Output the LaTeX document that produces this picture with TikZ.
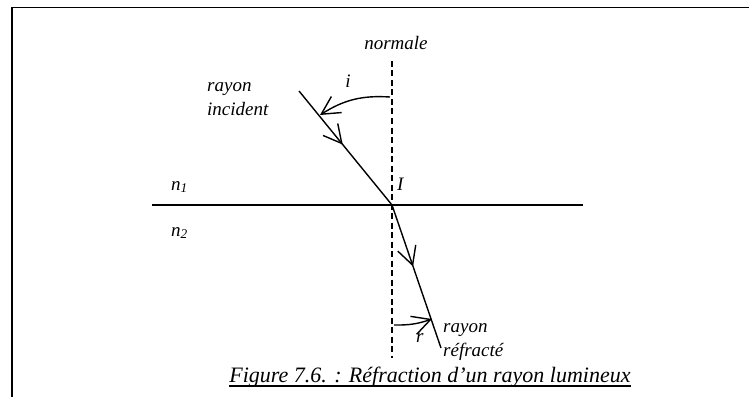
\documentclass[tikz,border=0pt]{standalone}
\usepackage{fontspec}
\setmainfont{Liberation Serif}
\usetikzlibrary{arrows.meta,decorations.markings}

\begin{document}
\begin{tikzpicture}[x=1pt,y=1pt,
    lbl/.style={font=\fontsize{19}{23.5}\selectfont\itshape, inner sep=0pt},
    ray/.style={line width=1.4pt},
    barbtip/.tip={Straight Barb[length=18pt,width=19pt,line width=1.4pt]},
    midarrow/.style={postaction={decorate,decoration={markings,mark=at position #1 with {\arrow{barbtip}}}}}
  ]
  \useasboundingbox (0,0) rectangle (749,397);

  \coordinate (fTL) at (12,389.5);
  \coordinate (fTR) at (749,389.5);
  \coordinate (fBL) at (12,0);
  \coordinate (I) at (392,192);
  \coordinate (src) at (299,306);
  \coordinate (dst) at (441,49);
  \coordinate (ntop) at (392,336);
  \coordinate (nbot) at (392,39);
  \coordinate (sL) at (152,192);
  \coordinate (sR) at (583,192);
  \coordinate (iA) at (390,300);
  \coordinate (iB) at (320,282);
  \coordinate (rA) at (394,72);
  \coordinate (rB) at (432,78);

  \node[lbl,anchor=base] (nor) at (396,347) {normale};
  \node[lbl,anchor=base] (ilbl) at (348,309) {i};
  \node[lbl,anchor=west,align=left] (inc) at (207,298) {rayon\\incident};
  \node[lbl,anchor=base west] (n1) at (171,207) {n\textsubscript{1}};
  \node[lbl,anchor=base west] (n2) at (171,161) {n\textsubscript{2}};
  \node[lbl,anchor=base west] (Ilbl) at (397,207) {I};
  \node[lbl,anchor=base west] (rlbl) at (416,55) {r};
  \node[lbl,anchor=west,align=left] (refr) at (443,55) {rayon\\réfracté};
  \node[lbl,anchor=base,font=\fontsize{22}{22}\selectfont\itshape] (cap) at (430,15)
    {Figure 7.6. : Réfraction d’un rayon lumineux};

  \draw[line width=1.8pt] (fBL) -- (fTL) -- (fTR);
  \draw[line width=2pt] (sL) -- (sR);
  \draw[line width=1.3pt,dash pattern=on 6pt off 3.5pt] (ntop) -- (nbot);
  \draw[ray,midarrow=0.47] (src) -- (I);
  \draw[ray,midarrow=0.43] (I) -- (dst);
  \draw[ray,-barbtip] (iA) to[bend right=18] (iB);
  \draw[ray,-barbtip] (rA) to[bend right=10] (rB);
  \draw[line width=1.5pt] ([yshift=-4pt]cap.base west) -- ([yshift=-4pt]cap.base east);
\end{tikzpicture}
\end{document}
